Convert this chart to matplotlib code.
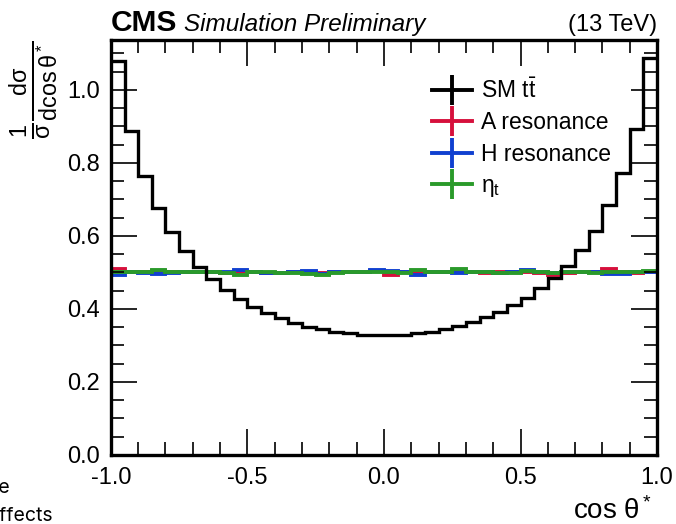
import numpy as np
import matplotlib
matplotlib.use("Agg")
import matplotlib.pyplot as plt
from matplotlib.lines import Line2D
from matplotlib.ticker import MultipleLocator, FormatStrFormatter

plt.rcParams['font.family'] = ['Liberation Sans', 'DejaVu Sans']
plt.rcParams['mathtext.fontset'] = 'custom'
plt.rcParams['mathtext.rm'] = 'Liberation Sans'
plt.rcParams['mathtext.it'] = 'Liberation Sans:italic'
plt.rcParams['mathtext.bf'] = 'Liberation Sans:bold'

# 40 bins in cos(theta*) from -1 to 1
edges = np.linspace(-1.0, 1.0, 41)

sm_tt = [1.080, 0.888, 0.764, 0.676, 0.610, 0.558, 0.514, 0.481, 0.452, 0.427,
         0.406, 0.388, 0.374, 0.361, 0.352, 0.345, 0.338, 0.333, 0.330, 0.328,
         0.328, 0.330, 0.333, 0.338, 0.345, 0.354, 0.365, 0.379, 0.393, 0.411,
         0.431, 0.457, 0.484, 0.517, 0.562, 0.615, 0.685, 0.772, 0.892, 1.087]

a_res = [0.509, 0.501, 0.500, 0.504, 0.500, 0.501, 0.502, 0.500, 0.499, 0.502,
         0.501, 0.499, 0.498, 0.500, 0.501, 0.499, 0.500, 0.501, 0.502, 0.503,
         0.492, 0.500, 0.499, 0.501, 0.500, 0.503, 0.501, 0.499, 0.500, 0.501,
         0.500, 0.499, 0.494, 0.499, 0.500, 0.501, 0.509, 0.500, 0.499, 0.502]

h_res = [0.493, 0.500, 0.498, 0.497, 0.499, 0.500, 0.502, 0.501, 0.500, 0.508,
         0.502, 0.499, 0.498, 0.501, 0.503, 0.496, 0.500, 0.501, 0.502, 0.507,
         0.505, 0.500, 0.493, 0.500, 0.501, 0.499, 0.500, 0.501, 0.499, 0.502,
         0.507, 0.500, 0.499, 0.500, 0.501, 0.502, 0.495, 0.497, 0.500, 0.501]

eta_t = [0.502, 0.501, 0.502, 0.508, 0.500, 0.500, 0.502, 0.500, 0.499, 0.493,
         0.500, 0.500, 0.499, 0.499, 0.495, 0.494, 0.499, 0.500, 0.501, 0.502,
         0.500, 0.499, 0.506, 0.500, 0.501, 0.509, 0.502, 0.500, 0.498, 0.499,
         0.503, 0.500, 0.499, 0.500, 0.501, 0.499, 0.500, 0.501, 0.500, 0.504]

labels = ['SM t$\\bar{\\mathrm{t}}$', 'A resonance', 'H resonance', '$\\mathrm{η}_{\\mathrm{t}}$']
colors = ['black', '#d6103c', '#1040d0', '#2a9a2a']

fig = plt.figure(figsize=(6.76, 5.24), dpi=100)
ax = fig.add_axes([0.164, 0.1317, 0.808, 0.792])

for vals, col in zip([a_res, h_res, eta_t], colors[1:]):
    ax.stairs(vals, edges, color=col, linewidth=2.8, baseline=None)
ax.stairs(sm_tt, edges, color='black', linewidth=2.4, baseline=None)

ax.set_xlim(-1, 1)
ax.set_ylim(0, 1.137)
ax.xaxis.set_major_locator(MultipleLocator(0.5))
ax.xaxis.set_minor_locator(MultipleLocator(0.1))
ax.yaxis.set_major_locator(MultipleLocator(0.2))
ax.yaxis.set_minor_locator(MultipleLocator(0.05))
ax.tick_params(which='both', direction='in', top=True, right=True,
               labelsize=17, width=1.2)
ax.tick_params(which='major', length=19)
ax.tick_params(which='minor', length=9.5)
ax.tick_params(axis='x', which='major', pad=9)
ax.tick_params(axis='y', which='major', pad=8)
ax.xaxis.set_major_formatter(FormatStrFormatter('%.1f'))
ax.yaxis.set_major_formatter(FormatStrFormatter('%.1f'))
for sp in ax.spines.values():
    sp.set_linewidth(2.4)

handles = [Line2D([], [], color=c, linewidth=2.8, marker='|', markersize=22,
                  markeredgewidth=2.8) for c in colors]
ax.legend(handles, labels, loc='upper left', bbox_to_anchor=(0.567, 0.935),
          frameon=False, fontsize=16.5, handlelength=1.75, handletextpad=0.4,
          labelspacing=0.37, borderpad=0)

ax.text(-0.141, 1.0,
        r'$\frac{1}{\mathrm{σ}}\frac{\mathrm{dσ}}{\mathrm{dcos\,θ}^*}$',
        transform=ax.transAxes, rotation=90, ha='center', va='top', fontsize=24)
ax.text(0.99, -0.135, r'cos θ$^*$', transform=ax.transAxes,
        ha='right', va='center', fontsize=20)

fig.text(111 / 676, 1 - 31 / 524, 'CMS', fontsize=21.5, fontweight='bold')
fig.text(184 / 676, 1 - 31 / 524, 'Simulation Preliminary', fontsize=17.5,
         fontstyle='italic')
fig.text(657 / 676, 1 - 31 / 524, '(13 TeV)', fontsize=17, ha='right')

# notes partly outside the canvas
fig.text(10 / 676, 1 - 493 / 524, 'parton level, lineshape', fontsize=14,
         ha='right', family=['Inter', 'DejaVu Sans'])
fig.text(53 / 676, 1 - 521 / 524, 'no interference effects', fontsize=14,
         ha='right', family=['Inter', 'DejaVu Sans'])

fig.savefig('out.png', dpi=100)
